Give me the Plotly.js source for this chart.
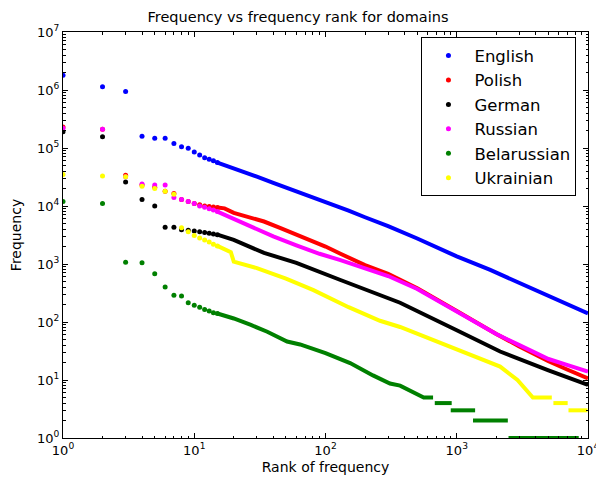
<!DOCTYPE html>
<html>
<head>
<meta charset="utf-8">
<script src="https://cdn.plot.ly/plotly-3.0.1.min.js"></script>
<style>html,body{margin:0;padding:0;background:#fff;}#chart{width:596px;height:481px;}</style>
</head>
<body>
<div id="chart"></div>
<script>
// ---- data ----
const seriesNames = ["English", "Polish", "German", "Russian", "Belarussian", "Ukrainian"];
const seriesColors = ["#0000ff", "#ff0000", "#000000", "#ff00ff", "#008000", "#ffff00"];

const headRanks = [1, 2, 3, 4, 5, 6, 7, 8, 9, 10, 11, 12, 13, 14, 15];

const englishHead = [1.8e6, 1.14e6, 9.4e5, 1.6e5, 1.47e5, 1.47e5, 1.2e5, 1.05e5, 9.9e4, 8.5e4, 7.6e4, 6.8e4, 6.4e4, 6.0e4, 5.6e4];
const englishTailRank = [15, 20, 30, 40, 60, 100, 150, 200, 300, 500, 1000, 1800, 3000, 5000, 7000, 10000];
const englishTail = [5.6e4, 4.5e4, 3.2e4, 2.5e4, 1.8e4, 1.15e4, 8.3e3, 6.4e3, 4.5e3, 2.75e3, 1.35e3, 790, 470, 285, 200, 141];

const polishHead = [2.3e5, 2.1e5, 3.4e4, 2.3e4, 2.1e4, 1.8e4, 1.65e4, 1.3e4, 1.2e4, 1.1e4, 1.05e4, 1.0e4, 9.8e3, 9.6e3, 9.4e3];
const polishTailRank = [15, 17, 20, 25, 34, 45, 60, 80, 100, 130, 200, 300, 500, 1000, 2000, 3000, 5000, 7000, 10000];
const polishTail = [9.4e3, 9.1e3, 7.6e3, 6.5e3, 5.4e3, 4.2e3, 3.2e3, 2.5e3, 2.0e3, 1.5e3, 960, 680, 380, 155, 62, 38, 21, 15, 10.7];

const germanHead = [1.9e5, 1.57e5, 2.6e4, 1.3e4, 1.0e4, 4.3e3, 4.3e3, 3.9e3, 3.8e3, 3.7e3, 3.6e3, 3.5e3, 3.4e3, 3.3e3, 3.2e3];
const germanTailRank = [15, 20, 34, 60, 130, 260, 370, 1000, 2140, 5000, 7000, 10000];
const germanTail = [3.2e3, 2.6e3, 1.55e3, 1.05e3, 530, 295, 215, 72, 31, 14.7, 11, 8.2];

const russianHead = [2.2e5, 2.1e5, 3.2e4, 2.4e4, 2.3e4, 2.3e4, 1.4e4, 1.3e4, 1.2e4, 1.1e4, 1.0e4, 9.5e3, 9.0e3, 8.5e3, 8.0e3];
const russianTailRank = [15, 20, 28, 40, 60, 90, 130, 200, 300, 500, 1000, 2000, 3000, 5000, 7000, 10000];
const russianTail = [8.0e3, 6.0e3, 4.2e3, 3.0e3, 2.1e3, 1.5e3, 1.17e3, 840, 620, 370, 150, 62, 40, 23, 18, 14];

const belarussianHead = [1.2e4, 1.1e4, 1.07e3, 1.05e3, 680, 400, 290, 280, 215, 195, 180, 165, 155, 145, 140];
const belarussianTailRank = [15, 20, 27, 36, 51, 64, 100, 154, 230, 310, 370, 420, 480, 560, 660, 660, 680, 915, 915, 900, 1380, 1380, 1330, 2450, 2450, 2480, 8500];
const belarussianTail = [140, 115, 89, 68, 46, 41, 29, 19.6, 12, 8.7, 8, 7, 6, 5, 5, null, 4, 4, null, 3, 3, null, 2, 2, null, 1, 1];

const ukrainianHead = [3.5e4, 3.3e4, 3.2e4, 2.2e4, 2.0e4, 1.8e4, 1.6e4, 4.2e3, 3.6e3, 3.1e3, 2.8e3, 2.6e3, 2.4e3, 2.2e3, 2.05e3];
const ukrainianTailRank = [15, 17, 19, 20, 30, 50, 81, 150, 260, 370, 1000, 2140, 2900, 3800, 5300, 5300, 5450, 7000, 7000, 7100, 9900, 9900, 10000, 11000];
const ukrainianTail = [2.05e3, 1.8e3, 1.6e3, 1.1e3, 850, 560, 355, 180, 105, 82, 33, 17, 10, 5, 5, null, 4, 4, null, 3, 3, null, 2, 2];

const xTickVals = [1, 10, 100, 1000, 10000];
const xTickText = ["10<sup>0</sup>", "10<sup>1</sup>", "10<sup>2</sup>", "10<sup>3</sup>", "10<sup>4</sup>"];
const yTickVals = [1, 10, 100, 1000, 1e4, 1e5, 1e6, 1e7];
const yTickText = ["10<sup>0</sup>", "10<sup>1</sup>", "10<sup>2</sup>", "10<sup>3</sup>", "10<sup>4</sup>", "10<sup>5</sup>", "10<sup>6</sup>", "10<sup>7</sup>"];

// ---- build traces ----
const heads = [englishHead, polishHead, germanHead, russianHead, belarussianHead, ukrainianHead];
const tailRanks = [englishTailRank, polishTailRank, germanTailRank, russianTailRank, belarussianTailRank, ukrainianTailRank];
const tails = [englishTail, polishTail, germanTail, russianTail, belarussianTail, ukrainianTail];

const traces = [];
seriesNames.forEach(function (name, i) {
  traces.push({
    type: "scatter", mode: "lines",
    x: tailRanks[i], y: tails[i],
    line: {color: seriesColors[i], width: 4},
    legendgroup: name, showlegend: false, connectgaps: false,
    hoverinfo: "skip"
  });
  traces.push({
    type: "scatter", mode: "markers", name: name,
    x: headRanks, y: heads[i],
    marker: {color: seriesColors[i], size: 5},
    legendgroup: name, showlegend: true
  });
});

const axisCommon = {
  type: "log",
  tickmode: "array",
  ticks: "inside", ticklen: 5, tickwidth: 1, tickcolor: "#000",
  showline: true, linecolor: "#000", linewidth: 1, mirror: "ticks",
  showgrid: false, zeroline: false,
  ticklabeloverflow: "allow",
  minor: {ticks: "inside", ticklen: 2.5, tickwidth: 1, tickcolor: "#000", dtick: "D1", showgrid: false},
  tickfont: {family: "DejaVu Sans", size: 13, color: "#000"}
};

const layout = {
  width: 596, height: 481,
  margin: {l: 63, r: 8, t: 32, b: 43},
  paper_bgcolor: "#fff", plot_bgcolor: "#fff",
  font: {family: "DejaVu Sans", color: "#000"},
  title: {text: "Frequency vs frequency rank for domains", x: 0.5, xref: "container", xanchor: "center",
          y: 0.965, yref: "container", yanchor: "middle", font: {family: "DejaVu Sans", size: 14.5, color: "#000"}},
  xaxis: Object.assign({}, axisCommon, {range: [0, 4], tickvals: xTickVals, ticktext: xTickText,
    title: {text: "Rank of frequency", font: {family: "DejaVu Sans", size: 14, color: "#000"}, standoff: 5}}),
  yaxis: Object.assign({}, axisCommon, {range: [0, 7], tickvals: yTickVals, ticktext: yTickText,
    title: {text: "Frequency", font: {family: "DejaVu Sans", size: 14, color: "#000"}, standoff: 12}}),
  legend: {x: 0.978, xanchor: "right", y: 0.987, yanchor: "top",
           bgcolor: "#fff", bordercolor: "#000", borderwidth: 1,
           font: {family: "DejaVu Sans", size: 16.5, color: "#000"},
           itemwidth: 42, traceorder: "normal"},
  showlegend: true
};

Plotly.newPlot("chart", traces, layout, {staticPlot: true, displayModeBar: false});
</script>
</body>
</html>
